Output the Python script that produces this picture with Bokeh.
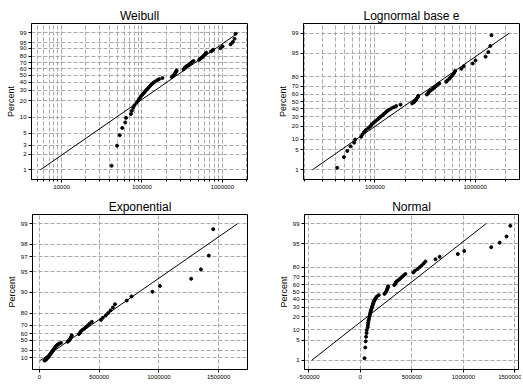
import math
from statistics import NormalDist
import numpy as np
from bokeh.plotting import figure
from bokeh.layouts import row, column
from bokeh.models import FixedTicker, Range1d, NumeralTickFormatter
from bokeh.embed import file_html
from bokeh.resources import INLINE

# ---- data (sorted failure values) ----
values = [42000, 49000, 53000, 57000, 62000, 63500, 73000, 75000, 78000, 81000,
          86000, 90000, 93000, 97000, 101000, 106000, 110000, 114000, 119000, 123000,
          128000, 132000, 138000, 145000, 154000, 163000, 180000, 235000, 245000, 252000,
          258000, 262000, 268000, 270000, 330000, 340000, 345000, 358000, 375000, 390000,
          405000, 420000, 438000, 515000, 530000, 555000, 575000, 595000, 615000, 632000,
          730000, 770000, 946000, 1008000, 1270000, 1352000, 1418000, 1455000]

# fitted parameters (ML estimates)
weib_shape = 1.083
weib_scale = 383000
logn_loc = 12.337
logn_scale = 0.972
exp_mean = 360000
norm_mean = 374600
norm_sd = 362700

# percent tick labels
weib_pct = [1, 2, 3, 5, 10, 20, 30, 40, 50, 60, 70, 80, 90, 95, 99]
logn_pct = [1, 5, 10, 20, 30, 40, 50, 60, 70, 80, 95, 99]
exp_pct = [10, 30, 50, 60, 70, 80, 90, 95, 97, 98, 99]
norm_pct = [1, 5, 10, 20, 30, 40, 50, 60, 70, 80, 95, 99]

weib_xticks = [10000, 100000, 1000000]
logn_xticks = [100000, 1000000]
exp_xticks = [0, 500000, 1000000, 1500000]
norm_xticks = [-500000, 0, 500000, 1000000, 1500000]

FONT = "Liberation Sans"
GRID = "#a9a9a9"

n = len(values)
x = np.array(values, dtype=float)
prob = (np.arange(1, n + 1) - 0.3) / (n + 0.4)
ends = np.array([0.01, 0.99])
ND = NormalDist()


def weib_t(p):
    return np.log(-np.log(1 - np.asarray(p, dtype=float)))


def norm_t(p):
    return np.array([ND.inv_cdf(float(q)) for q in np.atleast_1d(p)])


def exp_t(p):
    return -np.log(1 - np.asarray(p, dtype=float))


def log_minor(lo, hi):
    out = []
    for e in range(2, 8):
        for k in range(1, 10):
            v = k * 10 ** e
            if lo <= v <= hi:
                out.append(v)
    return out


def panel(title, xtype, xr, yr, tfun, pcts, xticks, xminor, fit_x,
          w, h, bl, br, bt, bb):
    p = figure(width=w, height=h, x_axis_type=xtype, x_range=xr, y_range=yr,
               output_backend="svg", toolbar_location=None,
               min_border_left=bl, min_border_right=br,
               min_border_top=bt, min_border_bottom=bb)
    p.background_fill_color = "white"
    p.border_fill_color = "white"
    p.outline_line_color = "black"
    p.outline_line_width = 1
    p.title.text = title
    p.title.text_font = FONT
    p.title.text_font_size = "12px"
    p.title.text_font_style = "normal"
    p.title.text_color = "black"
    p.title.align = "center"
    p.title.standoff = 1
    p.title.offset = 0

    yt = tfun(np.array(pcts) / 100.0)
    yticks = [float(v) for v in yt]
    p.yaxis.ticker = FixedTicker(ticks=yticks)
    p.yaxis.major_label_overrides = {t: str(pc) for t, pc in zip(yticks, pcts)}
    p.yaxis.axis_label = "Percent"
    p.yaxis.axis_label_text_font = FONT
    p.yaxis.axis_label_text_font_size = "9px"
    p.yaxis.axis_label_text_font_style = "normal"
    p.yaxis.axis_label_text_color = "black"
    p.yaxis.axis_label_standoff = 1

    p.xaxis.ticker = FixedTicker(ticks=xticks, minor_ticks=xminor)
    p.xaxis.formatter = NumeralTickFormatter(format="0")

    for ax in (p.xaxis, p.yaxis):
        ax.major_label_text_font = FONT
        ax.major_label_text_font_size = "6px"
        ax.major_label_text_color = "black"
        ax.major_label_standoff = 2
        ax.major_tick_out = 3
        ax.major_tick_in = 0
        ax.minor_tick_out = 2
        ax.minor_tick_in = 0
        ax.axis_line_color = "black"
        ax.major_tick_line_color = "black"
    p.yaxis.minor_tick_line_color = None

    for g in (p.xgrid, p.ygrid):
        g.grid_line_color = GRID
        g.grid_line_dash = "4 2"
        g.grid_line_width = 1
    if xminor:
        p.xgrid.minor_grid_line_color = GRID
        p.xgrid.minor_grid_line_dash = "4 2"

    p.line(fit_x, tfun(ends), line_color="black", line_width=1)
    p.scatter(x, tfun(prob), size=3, color="black", marker="circle")
    return p


# Weibull
w_lo, w_hi = 10 ** 3.627, 10 ** 6.313
p1 = panel("Weibull", "log", Range1d(w_lo, w_hi), Range1d(-5.035, 1.949),
           weib_t, weib_pct, weib_xticks, log_minor(w_lo, w_hi),
           weib_scale * (-np.log(1 - ends)) ** (1 / weib_shape),
           258, 196, 31, 11, 23, 17)

# Lognormal
l_lo, l_hi = 10 ** 4.287, 10 ** 6.4424
p2 = panel("Lognormal base e", "log", Range1d(l_lo, l_hi), Range1d(-2.657, 2.657),
           norm_t, logn_pct, logn_xticks, log_minor(l_lo, l_hi),
           np.exp(logn_loc + logn_scale * norm_t(ends)),
           263, 196, 45, 2, 23, 17)

# Exponential
p3 = panel("Exponential", "linear", Range1d(-58600, 1742000), Range1d(-0.287, 4.917),
           exp_t, exp_pct, exp_xticks, [], -exp_mean * np.log(1 - ends),
           258, 194, 32, 11, 18, 21)

# Normal
p4 = panel("Normal", "linear", Range1d(-539700, 1534000), Range1d(-2.643, 2.643),
           norm_t, norm_pct, norm_xticks, [], norm_mean + norm_sd * norm_t(ends),
           263, 194, 46, 3, 18, 21)

layout = column(row(p1, p2), row(p3, p4))
open("out.html", "w").write(file_html(layout, INLINE))
